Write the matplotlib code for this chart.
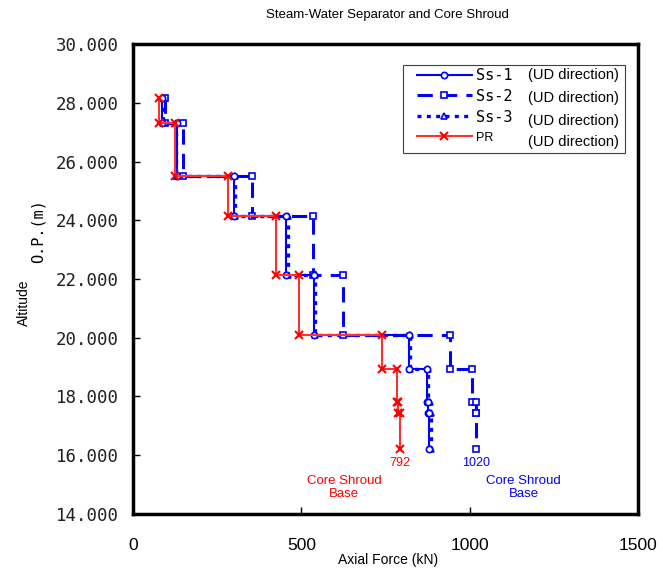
import matplotlib
matplotlib.use("Agg")
import matplotlib.pyplot as plt
from matplotlib.patches import Rectangle

# altitude boundaries of the segments (O.P. m)
levels = [28.15, 27.3, 25.5, 24.15, 22.15, 20.1, 18.95, 17.8, 17.45, 16.2]

# axial force of each segment (kN)
ss1 = [86, 131, 299, 455, 537, 819, 872, 875, 880]
ss2 = [95, 149, 352, 534, 623, 941, 1006, 1018, 1020]
ss3 = [88, 128, 302, 460, 540, 822, 876, 882, 885]
pr = [78, 124, 281, 424, 493, 740, 784, 788, 792]

yticks = [14, 16, 18, 20, 22, 24, 26, 28, 30]
xticks = [0, 500, 1000, 1500]


def steps(force):
    xs, ys = [], []
    for i, f in enumerate(force):
        xs += [f, f]
        ys += [levels[i], levels[i + 1]]
    return xs, ys


mono = "DejaVu Sans Mono"
sans = "Liberation Sans"

fig = plt.figure(figsize=(6.63, 5.73), dpi=100)
ax = fig.add_axes([0.2006, 0.103, 0.7617, 0.8202])

x, y = steps(ss2)
l2, = ax.plot(x, y, color="#0000ff", ls=(0, (5, 3)), lw=2.2, marker="s", ms=4.5,
              mfc="white", mec="#0000ff", mew=1.2)
x, y = steps(ss3)
l3, = ax.plot(x, y, color="#0000ff", ls=(0, (1.2, 1.6)), lw=2.4, marker="^", ms=5,
              mfc="white", mec="#0000ff", mew=1.2)
x, y = steps(ss1)
l1, = ax.plot(x, y, color="#0000ff", ls="-", lw=1.5, marker="o", ms=4.5,
              mfc="white", mec="#0000ff", mew=1.2)
x, y = steps(pr)
l4, = ax.plot(x, y, color="#ff3030", ls="-", lw=1.5, marker="x", ms=6,
              mec="#ff0000", mew=1.5)

ax.set_xlim(0, 1500)
ax.set_ylim(14, 30)
ax.set_xticks(xticks)
ax.set_yticks(yticks)
ax.set_xticklabels([str(v) for v in xticks], fontfamily=sans, fontsize=12.5)
ax.set_yticklabels(["%.3f" % v for v in yticks], fontfamily=mono, fontsize=12.5,
                   color="#202020")
ax.tick_params(direction="in", length=5, width=1)
ax.tick_params(axis="x", pad=17)
ax.tick_params(axis="y", pad=10)
for s in ax.spines.values():
    s.set_linewidth(2.5)

# axis labels
fig.text(0.585, 0.022, "Axial Force (kN)", fontfamily=sans, fontsize=10,
         ha="center", va="center")
fig.text(0.036, 0.472, "Altitude", fontfamily=sans, fontsize=10, rotation=90,
         ha="center", va="center")
fig.text(0.058, 0.597, "O.P.(m)", fontfamily=mono, fontsize=11, rotation=90,
         ha="center", va="center")
fig.text(0.584, 0.973, "Steam-Water Separator and Core Shroud", fontfamily=sans,
         fontsize=9.5, ha="center", va="center")

# annotations
ax.text(pr[-1], 15.75, "792", color="#ff0000", fontfamily=sans, fontsize=9,
        ha="center", va="center")
ax.text(ss2[-1], 15.75, "1020", color="#0000ff", fontfamily=sans, fontsize=9,
        ha="center", va="center")
ax.text(628, 14.9, "Core Shroud\nBase", color="#ff0000", fontfamily=sans,
        fontsize=9.5, ha="center", va="center", linespacing=1.1)
ax.text(1161, 14.9, "Core Shroud\nBase", color="#0000ff", fontfamily=sans,
        fontsize=9.5, ha="center", va="center", linespacing=1.1)

# legend
leg = ax.legend([l1, l2, l3, l4], ["Ss-1", "Ss-2", "Ss-3", "PR"],
                loc="upper left", bbox_to_anchor=(0.55, 0.962), frameon=False,
                prop={"family": mono, "size": 11}, handlelength=3.6,
                handletextpad=0.3, labelspacing=0.38, borderaxespad=0)
leg.get_texts()[3].set_fontfamily(sans)
leg.get_texts()[3].set_fontsize(9)
fig.patches.append(Rectangle((403 / 663, 1 - 153 / 573), 222 / 663, 88 / 573,
                             transform=fig.transFigure, fill=False,
                             edgecolor="#404040", lw=0.8))
for yp in [75, 98, 121, 142]:
    fig.text(528 / 663, 1 - yp / 573, "(UD direction)", fontfamily=sans,
             fontsize=10.5, ha="left", va="center")

fig.savefig("out.png", dpi=100)
